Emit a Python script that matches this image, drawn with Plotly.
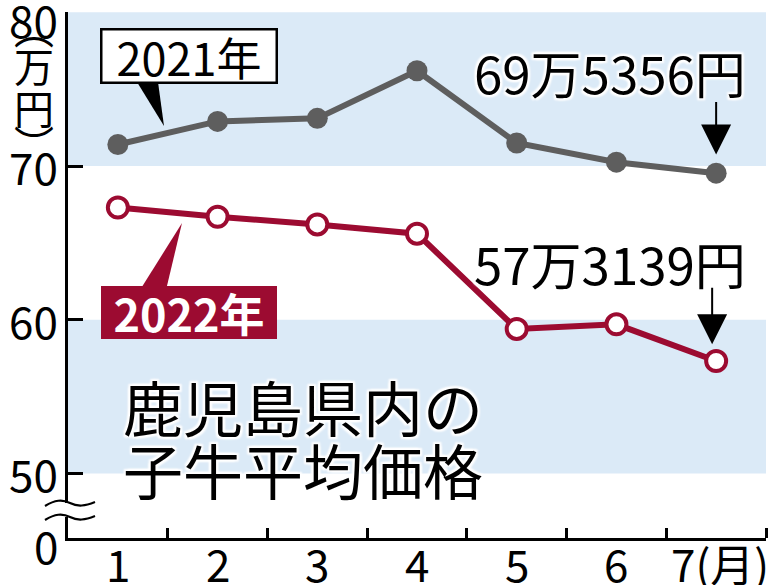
import plotly.graph_objects as go

# ---- data ----
months = [1, 2, 3, 4, 5, 6, 7]
month_labels = ["1", "2", "3", "4", "5", "6", "7(月)"]
price_2021 = [71.4, 72.9, 73.1, 76.2, 71.5, 70.25, 69.5356]
price_2022 = [67.3, 66.7, 66.2, 65.6, 59.4, 59.7, 57.3139]
y_tick_vals = [45.8, 50, 60, 70, 80]
y_tick_text = ["0", "50", "60", "70", "80"]
label_2021 = "2021年"
label_2022 = "2022年"
last_2021 = "69万5356円"
last_2022 = "57万3139円"
title_lines = ["鹿児島県内の", "子牛平均価格"]
unit_parts = ["︵", "万", "円", "︶"]

FONT = "Noto Sans CJK JP"
GRAY = "#5e5e5e"
RED = "#9c0b31"
BAND = "#dbeaf7"

W, H = 769, 585
ML, MR, MT, MB = 68, 3, 12, 47
PW, PH = W - ML - MR, H - MT - MB


def px(xp):
    return (xp - ML) / PW


def py(yp):
    return (H - MB - yp) / PH


fig = go.Figure()

fig.add_trace(go.Scatter(
    x=months, y=price_2021, mode="lines+markers",
    line=dict(color=GRAY, width=6),
    marker=dict(size=21, color=GRAY),
    showlegend=False, cliponaxis=False,
))
fig.add_trace(go.Scatter(
    x=months, y=price_2022, mode="lines+markers",
    line=dict(color=RED, width=6),
    marker=dict(size=20, color="white", line=dict(color=RED, width=4)),
    showlegend=False, cliponaxis=False,
))

shapes = []
# background bands
for y0, y1 in [(70, 80), (50, 60)]:
    shapes.append(dict(type="rect", xref="paper", yref="y", x0=0, x1=1, y0=y0, y1=y1,
                       fillcolor=BAND, line=dict(width=0), layer="below"))

# axis break
shapes.append(dict(type="rect", xref="paper", yref="paper",
                   x0=px(62), x1=px(74), y0=py(517), y1=py(503),
                   fillcolor="white", line=dict(width=0), layer="above"))
for yc in [503, 517]:
    x0, x1 = px(45), px(95)
    path = (f"M {x0},{py(yc+3)} C {px(55)},{py(yc-3)} {px(62)},{py(yc-4)} {px(70)},{py(yc)} "
            f"S {px(85)},{py(yc+3)} {x1},{py(yc-1)}")
    shapes.append(dict(type="path", xref="paper", yref="paper", path=path,
                       line=dict(color="black", width=2.2), layer="above"))

# callout pointers
shapes.append(dict(type="path", xref="paper", yref="paper",
                   path=f"M {px(137)},{py(82)} L {px(158)},{py(82)} L {px(164)},{py(126)} Z",
                   fillcolor="black", line=dict(width=0), layer="above"))
shapes.append(dict(type="path", xref="paper", yref="paper",
                   path=f"M {px(140)},{py(290)} L {px(166)},{py(290)} L {px(182)},{py(223)} Z",
                   fillcolor=RED, line=dict(width=0), layer="above"))

halo = ("0 0 2px white, 0 0 3px white, 0 0 4px white, 2px 2px 2px white, "
        "-2px -2px 2px white, 2px -2px 2px white, -2px 2px 2px white")

C = dict(xanchor="center", yanchor="middle", showarrow=False)

annotations = []
# y tick labels
for val, txt, ys in zip(y_tick_vals, y_tick_text, [-7, 0, 0, 0, -7]):
    annotations.append(dict(xref="paper", yref="y", x=px(60), y=val, yshift=ys,
                            xanchor="right", yanchor="middle", text=txt, showarrow=False,
                            font=dict(family=FONT, size=44, color="black")))
# x tick labels
for m, txt in zip(months, month_labels):
    annotations.append(dict(xref="x", yref="paper", x=m, y=py(563), text=txt,
                            xshift=4 if len(txt) > 1 else 0,
                            font=dict(family=FONT, size=44, color="black"), **C))
# callout boxes
annotations.append(dict(xref="paper", yref="paper", x=px(189), y=py(55.5),
                        text=label_2021,
                        font=dict(family=FONT, size=45, color="black"),
                        bgcolor="white", bordercolor="black", borderwidth=2.5,
                        width=173, height=51, borderpad=0, **C))
annotations.append(dict(xref="paper", yref="paper", x=px(189), y=py(312),
                        text=f"<b>{label_2022}</b>",
                        font=dict(family=FONT, size=45, color="white"),
                        bgcolor=RED, bordercolor=RED, borderwidth=1,
                        width=174, height=51, borderpad=0, **C))
# value labels
annotations.append(dict(xref="paper", yref="paper", x=px(610), y=py(72),
                        text=last_2021,
                        font=dict(family=FONT, size=51, color="black", shadow=halo), **C))
annotations.append(dict(xref="paper", yref="paper", x=px(610), y=py(263),
                        text=last_2022,
                        font=dict(family=FONT, size=51, color="black", shadow=halo), **C))
# arrows
annotations.append(dict(x=7, y=70.75, ax=0, ay=-54, text="", showarrow=True,
                        arrowhead=2, arrowsize=3.0, arrowwidth=2, arrowcolor="black"))
annotations.append(dict(x=6.96, y=58.4, ax=0, ay=-58, text="", showarrow=True,
                        arrowhead=2, arrowsize=3.0, arrowwidth=2, arrowcolor="black"))
# title
for line, yc in zip(title_lines, [405, 468]):
    annotations.append(dict(xref="paper", yref="paper", x=px(121), y=py(yc),
                            xanchor="left", yanchor="middle", text=line, showarrow=False,
                            font=dict(family=FONT, size=60, color="black", shadow=halo)))
# unit label (vertical)
for part, yc in zip(unit_parts, [27, 65, 107, 143]):
    annotations.append(dict(xref="paper", yref="paper", x=px(34), y=py(yc),
                            text=part,
                            font=dict(family=FONT, size=40, color="black"), **C))

fig.update_layout(
    width=W, height=H,
    margin=dict(l=ML, r=MR, t=MT, b=MB, autoexpand=False),
    paper_bgcolor="white", plot_bgcolor="white",
    font=dict(family=FONT, color="black"),
    shapes=shapes, annotations=annotations,
    xaxis=dict(range=[0.5, 7.5], tickvals=months, ticktext=month_labels,
               showticklabels=False,
               ticks="", showgrid=False, zeroline=False, automargin=False,
               showline=True, linecolor="black", linewidth=3,
               minor=dict(tickvals=[m + 0.5 for m in months], ticks="inside",
                          ticklen=10, tickwidth=2.5, tickcolor="black", showgrid=False)),
    yaxis=dict(range=[45.8, 80.02], tickvals=y_tick_vals, ticktext=y_tick_text,
               showticklabels=False,
               ticks="inside", ticklen=15, tickwidth=2.5, tickcolor="black",
               showgrid=False, zeroline=False, automargin=False,
               showline=True, linecolor="black", linewidth=3),
)

fig.write_html("out.html", config={"displayModeBar": False},
               post_script="document.body.style.margin='0';document.body.style.padding='0';")
